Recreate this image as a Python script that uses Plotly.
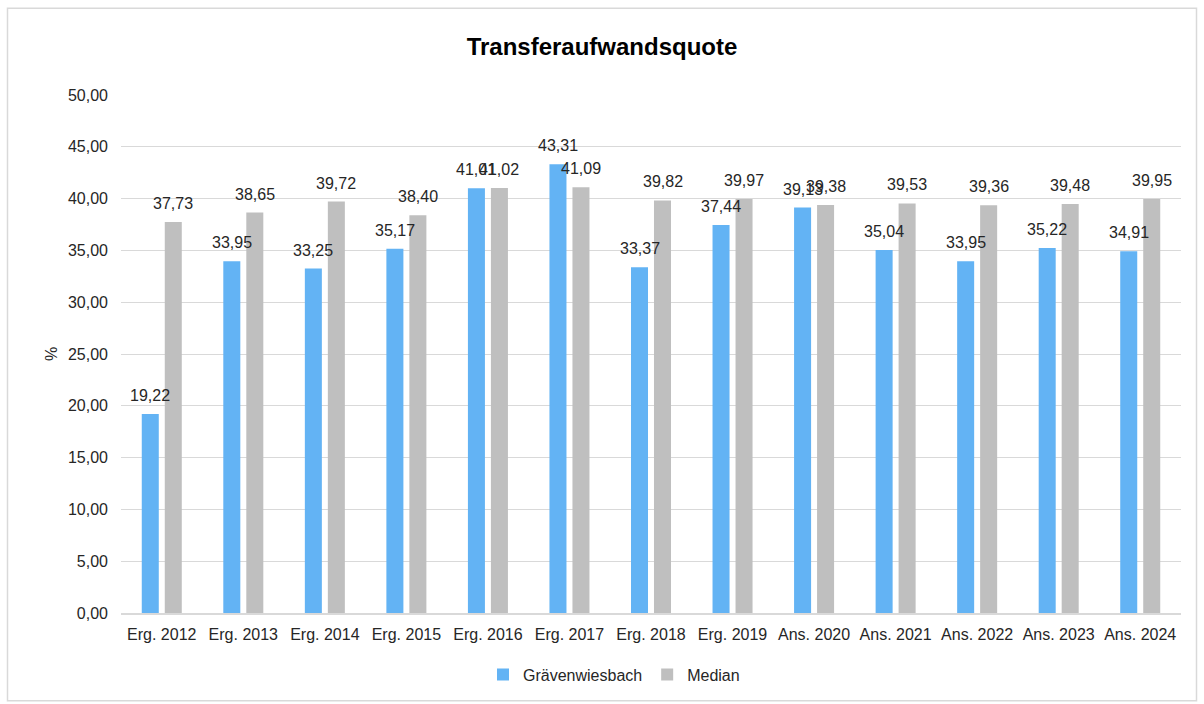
import plotly.graph_objects as go

categories = ["Erg. 2012", "Erg. 2013", "Erg. 2014", "Erg. 2015", "Erg. 2016", "Erg. 2017",
              "Erg. 2018", "Erg. 2019", "Ans. 2020", "Ans. 2021", "Ans. 2022", "Ans. 2023", "Ans. 2024"]
graevenwiesbach = [19.22, 33.95, 33.25, 35.17, 41.01, 43.31, 33.37, 37.44, 39.13, 35.04, 33.95, 35.22, 34.91]
median = [37.73, 38.65, 39.72, 38.40, 41.02, 41.09, 39.82, 39.97, 39.38, 39.53, 39.36, 39.48, 39.95]
y_ticks = [0, 5, 10, 15, 20, 25, 30, 35, 40, 45, 50]

def fmt(v):
    return f"{v:.2f}".replace(".", ",")

font_family = "Liberation Sans, Arial, sans-serif"
txt_color = "#262626"

fig = go.Figure()
fig.add_trace(go.Bar(name="Grävenwiesbach", x=categories, y=graevenwiesbach,
                     marker_color="#63B3F4", marker_line_width=0))
fig.add_trace(go.Bar(name="Median", x=categories, y=median,
                     marker_color="#BFBFBF", marker_line_width=0))

# value labels above the bars
for series, shift in ((graevenwiesbach, -11.5), (median, 11.5)):
    for cat, v in zip(categories, series):
        fig.add_annotation(x=cat, y=v, text=fmt(v), showarrow=False,
                           xshift=shift, yshift=8, yanchor="bottom",
                           font=dict(size=16, color=txt_color, family=font_family))

fig.update_layout(
    width=1204, height=704,
    paper_bgcolor="white", plot_bgcolor="white",
    separators=",.",
    barmode="group", bargap=0.436, bargroupgap=0.26,
    margin=dict(l=121, r=23, t=95, b=89),
    font=dict(family=font_family, size=16, color=txt_color),
    title=dict(text="<b>Transferaufwandsquote</b>", x=0.5, xanchor="center",
               y=1 - 47 / 704, yanchor="middle",
               font=dict(size=24, color="#000000", family=font_family)),
    legend=dict(orientation="h", x=(614 - 121) / 1060, xanchor="center", y=-0.119, yanchor="middle",
                font=dict(size=16, color=txt_color), traceorder="normal",
                itemwidth=30, tracegroupgap=0),
    showlegend=True,
)
fig.update_xaxes(showgrid=False, showline=True, linecolor="#D9D9D9", linewidth=1.5,
                 ticks="", ticklabelstandoff=6, tickfont=dict(size=16, color=txt_color))
fig.update_yaxes(range=[0, 50], tickvals=y_ticks, tickformat=".2f",
                 showgrid=True, gridcolor="#D9D9D9", gridwidth=1,
                 zeroline=False, showline=False, ticks="", ticklabelstandoff=12,
                 tickfont=dict(size=16, color=txt_color),
                 title=dict(text="%", font=dict(size=16, color=txt_color), standoff=6))

# outer chart border
fig.add_shape(type="rect", xref="paper", yref="paper",
              x0=(7.5 - 121) / 1060, x1=(1196.5 - 121) / 1060,
              y0=(615 - 703) / 520, y1=(615 - 8) / 520,
              line=dict(color="#D9D9D9", width=1.5), fillcolor="rgba(0,0,0,0)", layer="below")

fig.write_html("out.html", post_script="document.body.style.margin='0';",
               config={"displayModeBar": False})
